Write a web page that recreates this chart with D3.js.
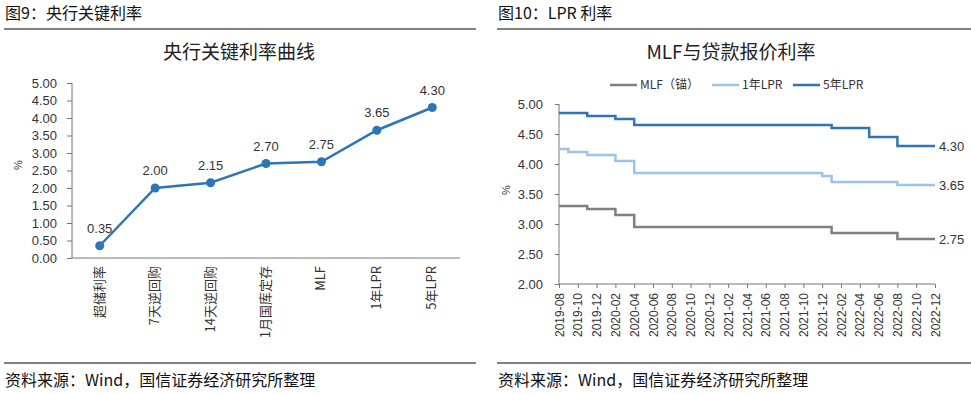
<!DOCTYPE html>
<html><head><meta charset="utf-8">
<script src="https://cdn.jsdelivr.net/npm/d3@7"></script>
<style>
body{margin:0;background:#fff;}
svg{display:block;font-family:"Liberation Sans","Noto Sans CJK SC",sans-serif;}
</style></head><body>
<svg id="c" width="971" height="394"></svg>
<script>
// ---- Left chart data ----
const leftCategories = ["超储利率","7天逆回购","14天逆回购","1月国库定存","MLF","1年LPR","5年LPR"];
const leftValues = [0.35, 2.00, 2.15, 2.70, 2.75, 3.65, 4.30];
const leftTicks = [0,0.5,1,1.5,2,2.5,3,3.5,4,4.5,5];

// ---- Right chart data ----
const months = ["2019-08","2019-09","2019-10","2019-11","2019-12","2020-01","2020-02","2020-03","2020-04","2020-05","2020-06","2020-07","2020-08","2020-09","2020-10","2020-11","2020-12","2021-01","2021-02","2021-03","2021-04","2021-05","2021-06","2021-07","2021-08","2021-09","2021-10","2021-11","2021-12","2022-01","2022-02","2022-03","2022-04","2022-05","2022-06","2022-07","2022-08","2022-09","2022-10","2022-11","2022-12"];
const mlf    = [3.30,3.30,3.30,3.25,3.25,3.25,3.15,3.15,2.95,2.95,2.95,2.95,2.95,2.95,2.95,2.95,2.95,2.95,2.95,2.95,2.95,2.95,2.95,2.95,2.95,2.95,2.95,2.95,2.95,2.85,2.85,2.85,2.85,2.85,2.85,2.85,2.75,2.75,2.75,2.75,2.75];
const lpr1y  = [4.25,4.20,4.20,4.15,4.15,4.15,4.05,4.05,3.85,3.85,3.85,3.85,3.85,3.85,3.85,3.85,3.85,3.85,3.85,3.85,3.85,3.85,3.85,3.85,3.85,3.85,3.85,3.85,3.80,3.70,3.70,3.70,3.70,3.70,3.70,3.70,3.65,3.65,3.65,3.65,3.65];
const lpr5y  = [4.85,4.85,4.85,4.80,4.80,4.80,4.75,4.75,4.65,4.65,4.65,4.65,4.65,4.65,4.65,4.65,4.65,4.65,4.65,4.65,4.65,4.65,4.65,4.65,4.65,4.65,4.65,4.65,4.65,4.60,4.60,4.60,4.60,4.45,4.45,4.45,4.30,4.30,4.30,4.30,4.30];
const seriesNames = ["MLF（锚）","1年LPR","5年LPR"];
const rightTicks = [2,2.5,3,3.5,4,4.5,5];

const svg = d3.select("#c");
const CJK = '"Noto Sans CJK SC",sans-serif';
const fmt = d3.format(".2f");

// ---- headers / footers ----
function frame(x0, x1, title) {
  svg.append("text").attr("x", x0+1).attr("y", 19).attr("font-family", CJK)
     .attr("font-size", 16).attr("fill", "#111").text(title);
  svg.append("line").attr("x1", x0).attr("x2", x1).attr("y1", 29).attr("y2", 29)
     .attr("stroke", "#808080").attr("stroke-width", 2);
  svg.append("line").attr("x1", x0).attr("x2", x1).attr("y1", 363).attr("y2", 363)
     .attr("stroke", "#808080").attr("stroke-width", 2);
  svg.append("text").attr("x", x0+1).attr("y", 386).attr("font-family", CJK)
     .attr("font-size", 16).attr("fill", "#111").text("资料来源：Wind，国信证券经济研究所整理");
}
frame(4, 476, "图9：央行关键利率");
frame(497, 971, "图10：LPR 利率");

// ---- Left chart ----
const L = svg.append("g");
L.append("text").attr("x", 239).attr("y", 59).attr("text-anchor", "middle")
 .attr("font-family", CJK).attr("font-size", 19).attr("fill", "#222").text("央行关键利率曲线");

const lx = d3.scaleBand().domain(leftCategories).range([72, 460]);
const ly = d3.scaleLinear().domain([0, 5]).range([258, 83]);

const lyAxis = L.append("g").attr("transform", "translate(72,0)")
  .call(d3.axisLeft(ly).tickValues(leftTicks).tickFormat(fmt).tickSize(5).tickPadding(10));
lyAxis.selectAll("text").attr("font-size", 13).attr("fill", "#333");
lyAxis.selectAll("line,path").attr("stroke", "#777");
lyAxis.select(".domain").attr("d", `M0,${ly(0)}V${ly(5)}`);

const lxAxis = L.append("g").attr("transform", "translate(0,258)")
  .call(d3.axisBottom(lx).tickSize(0).tickPadding(0));
lxAxis.select(".domain").attr("stroke", "#777").attr("d", "M72,0H460");
lxAxis.selectAll("text").attr("font-family", CJK).attr("font-size", 13).attr("fill", "#333")
  .attr("text-anchor", "end").attr("transform", "translate(4,8) rotate(-90)").attr("dy", 0).attr("y", 0).attr("x", 0);

L.append("text").attr("transform", `translate(22,165) rotate(-90)`).attr("text-anchor", "middle")
 .attr("font-size", 11).attr("fill", "#333").text("%");

const lineL = d3.line().x((d,i) => lx(leftCategories[i]) + lx.bandwidth()/2).y(d => ly(d));
L.append("path").datum(leftValues).attr("d", lineL).attr("fill", "none")
 .attr("stroke", "#2E75B6").attr("stroke-width", 2.5);
L.selectAll("circle").data(leftValues).join("circle")
 .attr("cx", (d,i) => lx(leftCategories[i]) + lx.bandwidth()/2).attr("cy", d => ly(d))
 .attr("r", 4.5).attr("fill", "#2E75B6");
L.selectAll("text.lbl").data(leftValues).join("text").attr("class", "lbl")
 .attr("x", (d,i) => lx(leftCategories[i]) + lx.bandwidth()/2).attr("y", d => ly(d) - 13)
 .attr("text-anchor", "middle").attr("font-size", 13).attr("fill", "#333").text(fmt);

// ---- Right chart ----
const R = svg.append("g");
R.append("text").attr("x", 731).attr("y", 59).attr("text-anchor", "middle")
 .attr("font-family", CJK).attr("font-size", 19).attr("fill", "#222").text("MLF与贷款报价利率");

const rx = d3.scalePoint().domain(months).range([559, 935]);
const ry = d3.scaleLinear().domain([2, 5]).range([284, 104]);
const colors = ["#808080", "#9DC3E6", "#2E75B6"];
const series = [mlf, lpr1y, lpr5y];

const ryAxis = R.append("g").attr("transform", "translate(559,0)")
  .call(d3.axisLeft(ry).tickValues(rightTicks).tickFormat(fmt).tickSize(4).tickPadding(12));
ryAxis.selectAll("text").attr("font-size", 13).attr("fill", "#333");
ryAxis.selectAll("line,path").attr("stroke", "#777");
ryAxis.select(".domain").attr("d", `M0,${ry(2)}V${ry(5)}`);

const rxAxis = R.append("g").attr("transform", "translate(0,284)")
  .call(d3.axisBottom(rx).tickValues(months.filter((d,i) => i % 2 === 0)).tickSize(4).tickPadding(0));
rxAxis.selectAll("line,path").attr("stroke", "#777");
rxAxis.select(".domain").attr("d", "M559,0H935");
rxAxis.selectAll("text").attr("font-size", 12).attr("fill", "#333")
  .attr("text-anchor", "end").attr("y", 0).attr("dy", 0).attr("x", 0)
  .attr("transform", "translate(4,9) rotate(-90)");

R.append("text").attr("transform", `translate(510,190) rotate(-90)`).attr("text-anchor", "middle")
 .attr("font-size", 11).attr("fill", "#333").text("%");

const lineR = d3.line().x((d,i) => rx(months[i])).y(d => ry(d)).curve(d3.curveStepAfter);
series.forEach((s, k) => {
  R.append("path").datum(s).attr("d", lineR).attr("fill", "none")
   .attr("stroke", colors[k]).attr("stroke-width", 2.5);
  R.append("text").attr("x", 939).attr("y", ry(s[s.length-1]) + 5)
   .attr("font-size", 13).attr("fill", "#333").text(fmt(s[s.length-1]));
});

// legend
const legX = [610, 712, 793];
seriesNames.forEach((n, k) => {
  R.append("line").attr("x1", legX[k]).attr("x2", legX[k] + 27).attr("y1", 85).attr("y2", 85)
   .attr("stroke", colors[k]).attr("stroke-width", 2.5);
  R.append("text").attr("x", legX[k] + 30).attr("y", 89).attr("font-family", CJK)
   .attr("font-size", 12).attr("fill", "#333").text(n);
});
</script>
</body></html>
